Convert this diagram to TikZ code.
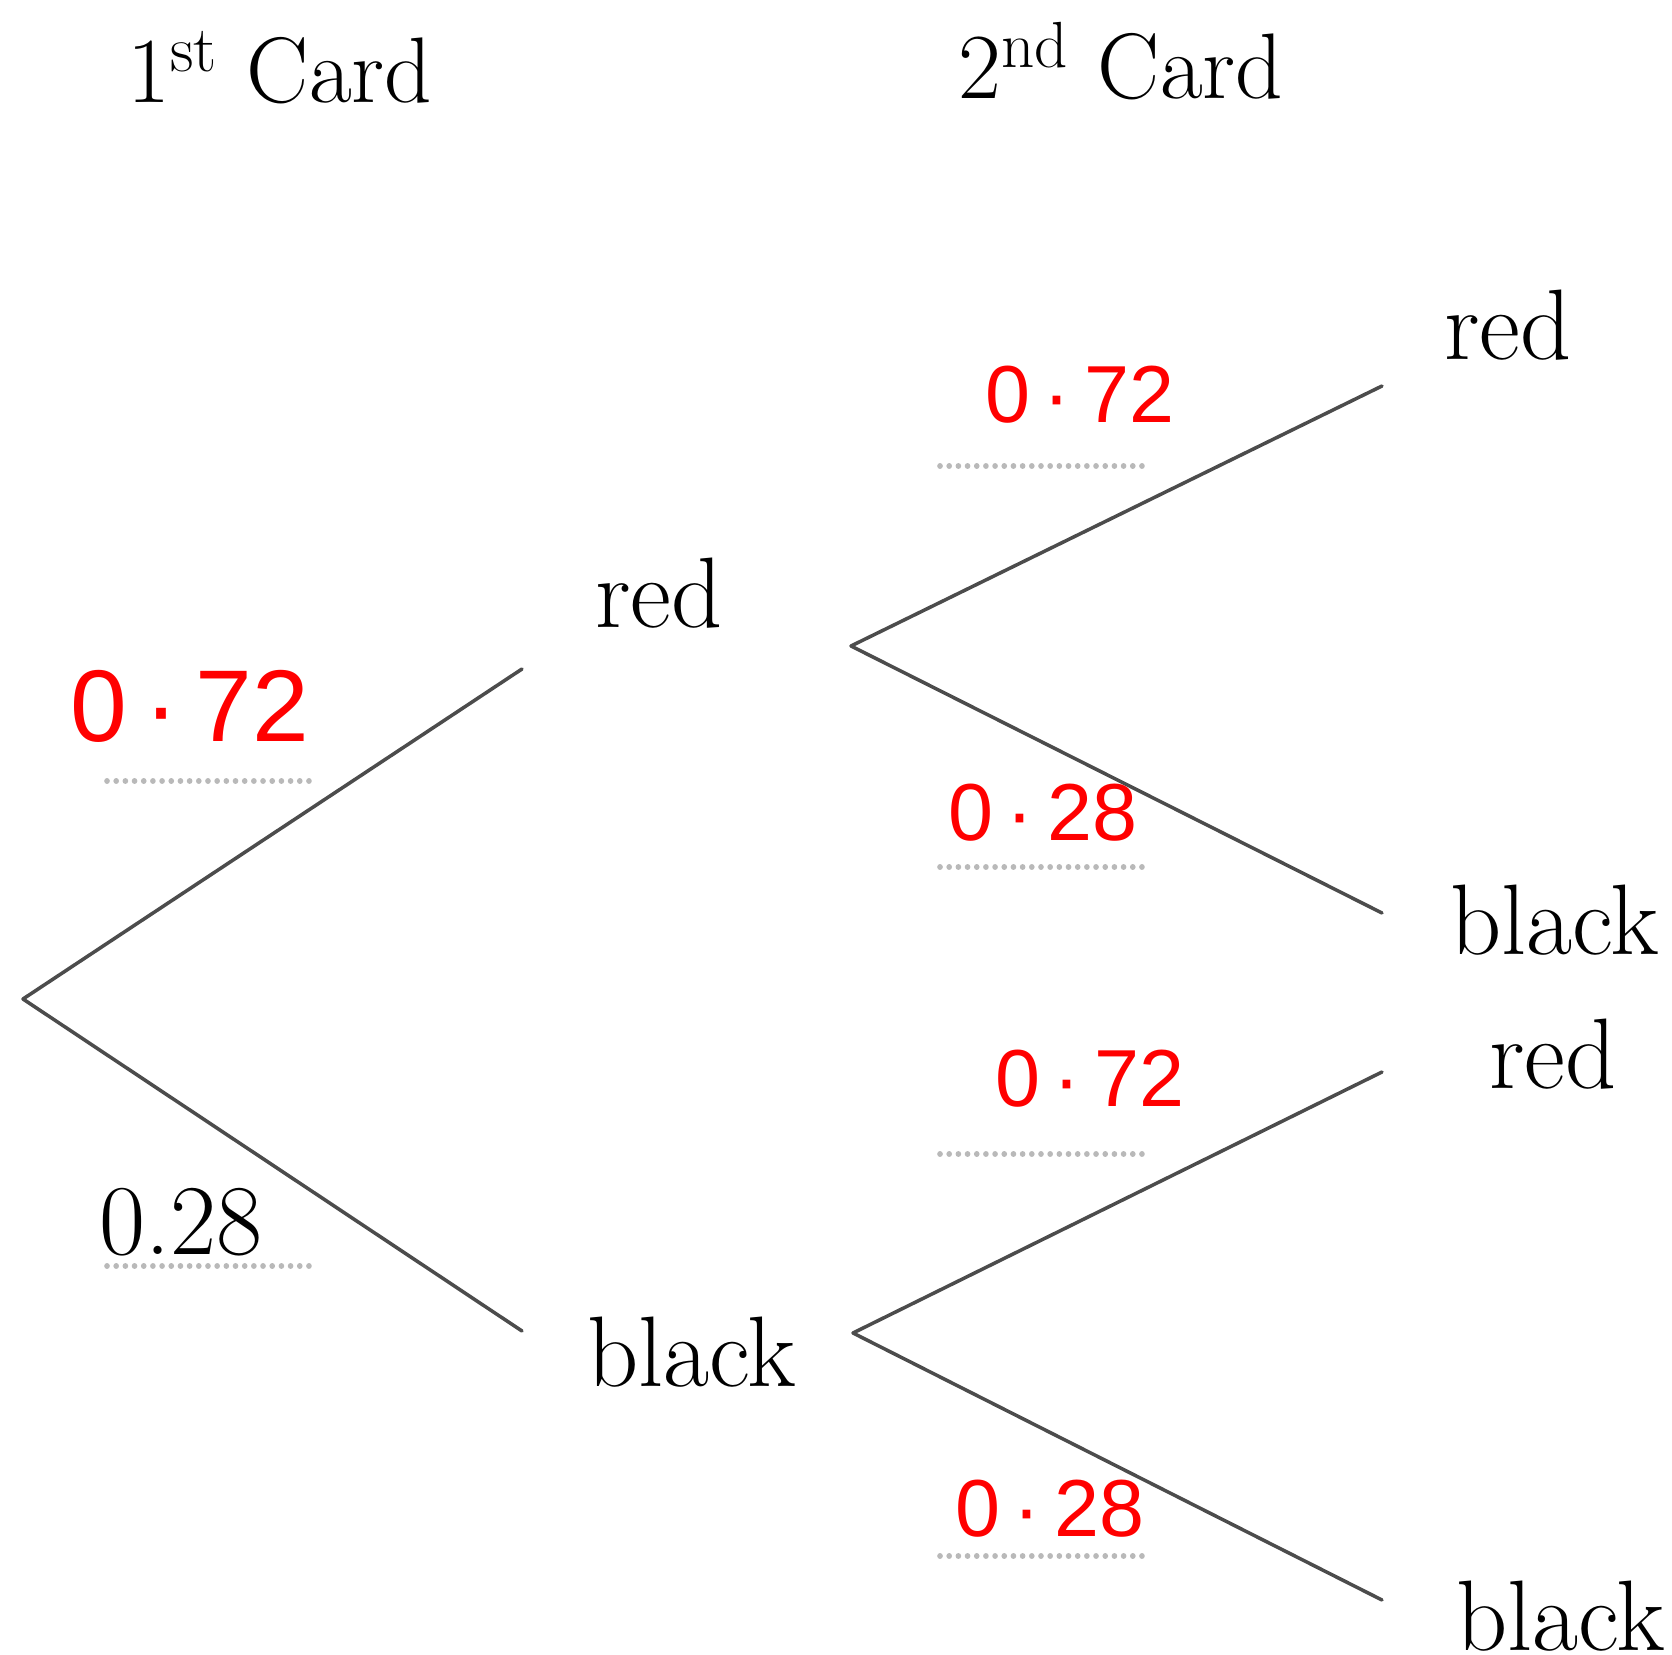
\documentclass[tikz,border=0pt]{standalone}
\usepackage{fontspec}
\newfontfamily\handfont{Liberation Sans}
\usetikzlibrary{positioning}

\begin{document}
\begin{tikzpicture}[x=0.01cm, y=-0.01cm, line join=round, line cap=round,
    branch/.style={draw=black!70, line width=1pt},
    lbl/.style={anchor=base, inner sep=0pt, font=\fontsize{28.5}{34}\selectfont},
    head/.style={lbl, font=\fontsize{26.5}{32}\selectfont},
    prob/.style={inner sep=0pt, text=red, font=\handfont\fontsize{23}{28}\selectfont},
    blank/.style={gray!55, line width=1.6pt, dash pattern=on 0.01pt off 2.6pt}]
    \useasboundingbox (0,0) rectangle (1672,1655);

    % headings
    \node[head] (first) at (280,103) {1\textsuperscript{st} Card};
    \node[head] (second) at (1121,99) {2\textsuperscript{nd} Card};

    % branch points
    \coordinate (root) at (23,999);
    \coordinate (r1in) at (522,669);
    \coordinate (b1in) at (522,1331);
    \coordinate (r1out) at (851,646);
    \coordinate (b1out) at (853,1333);
    \coordinate (rr) at (1382,386);
    \coordinate (rb) at (1382,913);
    \coordinate (br) at (1382,1072);
    \coordinate (bb) at (1382,1600);

    % outcomes
    \node[lbl] (red1) at (659,627) {red};
    \node[lbl] (black1) at (692,1386) {black};
    \node[lbl] (redred) at (1508,360) {red};
    \node[lbl] (redblack) at (1555,954) {black};
    \node[lbl] (blackred) at (1553,1088) {red};
    \node[lbl] (blackblack) at (1561,1650) {black};

    \draw[branch] (r1in) -- (root) -- (b1in);
    \draw[branch] (rr) -- (r1out) -- (rb);
    \draw[branch] (br) -- (b1out) -- (bb);

    % blanks to fill in
    \foreach \x/\y in {107/781, 107/1266, 940/466, 940/867, 940/1154, 940/1556}
        \draw[blank] (\x,\y) -- ++(204,0);

    \node[lbl] (p2) at (181,1254) {0.28};
    \node[prob, font=\handfont\fontsize{29}{34}\selectfont] (p1) at (190,706) {0\,·\,72};
    \node[prob] (prr) at (1080,395) {0\,·\,72};
    \node[prob] (prb) at (1043,813) {0\,·\,28};
    \node[prob] (pbr) at (1090,1079) {0\,·\,72};
    \node[prob] (pbb) at (1050,1509) {0\,·\,28};
\end{tikzpicture}
\end{document}
